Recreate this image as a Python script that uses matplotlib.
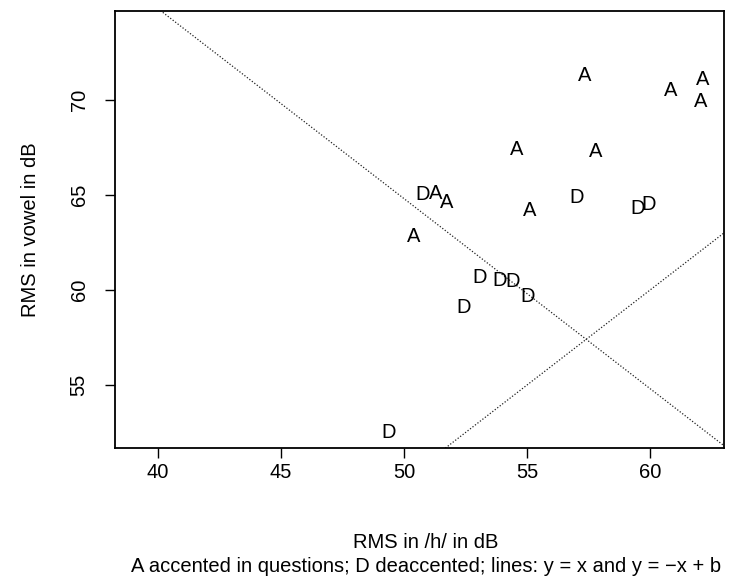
import numpy as np
import matplotlib
matplotlib.use('Agg')
from matplotlib import pyplot as plt

plt.rcParams['font.family'] = ['Liberation Sans', 'DejaVu Sans']

# accented in questions (A)
a_x = [57.32, 60.85, 62.15, 62.07, 54.59, 57.80, 51.30, 51.71, 55.12, 50.37]
a_y = [71.30, 70.50, 71.05, 69.90, 67.40, 67.30, 65.10, 64.60, 64.16, 62.80]
# deaccented (D)
d_x = [50.77, 57.03, 59.51, 59.92, 53.05, 53.90, 54.39, 55.00, 52.40, 49.39]
d_y = [65.00, 64.84, 64.30, 64.47, 60.63, 60.47, 60.42, 59.63, 59.10, 52.47]

b = 114.8  # intercept of y = -x + b
x_ticks = [40, 45, 50, 55, 60]
y_ticks = [55, 60, 65, 70]

fs = 14.5
fig = plt.figure(figsize=(7.32, 5.77), dpi=100)
ax = fig.add_axes([115 / 732, 1 - 448 / 577, (724 - 115) / 732, (448 - 11) / 577])

for x, y in zip(a_x, a_y):
    ax.text(x, y, 'A', ha='center', va='center', fontsize=fs)
for x, y in zip(d_x, d_y):
    ax.text(x, y, 'D', ha='center', va='center', fontsize=fs)

xs = np.array([30, 70])
ax.plot(xs, xs, color='#222222', lw=0.9, ls=(0, (1, 1.5)))
ax.plot(xs, b - xs, color='#222222', lw=0.9, ls=(0, (1, 1.5)))

ax.set_xlim(38.25, 63.0)
ax.set_ylim(51.68, 74.68)
ax.set_xticks(x_ticks)
ax.set_yticks(y_ticks)
ax.tick_params(direction='out', length=7, width=1, labelsize=fs)
ax.tick_params(axis='x', pad=4)
ax.tick_params(axis='y', labelrotation=90, pad=12)
for lab in ax.get_yticklabels():
    lab.set_va('center')
for s in ax.spines.values():
    s.set_linewidth(1.3)

ax.set_ylabel('RMS in vowel in dB', fontsize=fs, labelpad=21)
cx = 426 / 732
fig.text(cx, 1 - 543 / 577, 'RMS in /h/ in dB', ha='center', va='center', fontsize=fs)
fig.text(cx, 1 - 567 / 577, 'A accented in questions; D deaccented; lines: y = x and y = \u2212x + b',
         ha='center', va='center', fontsize=fs)

fig.savefig('out.png', dpi=100)
